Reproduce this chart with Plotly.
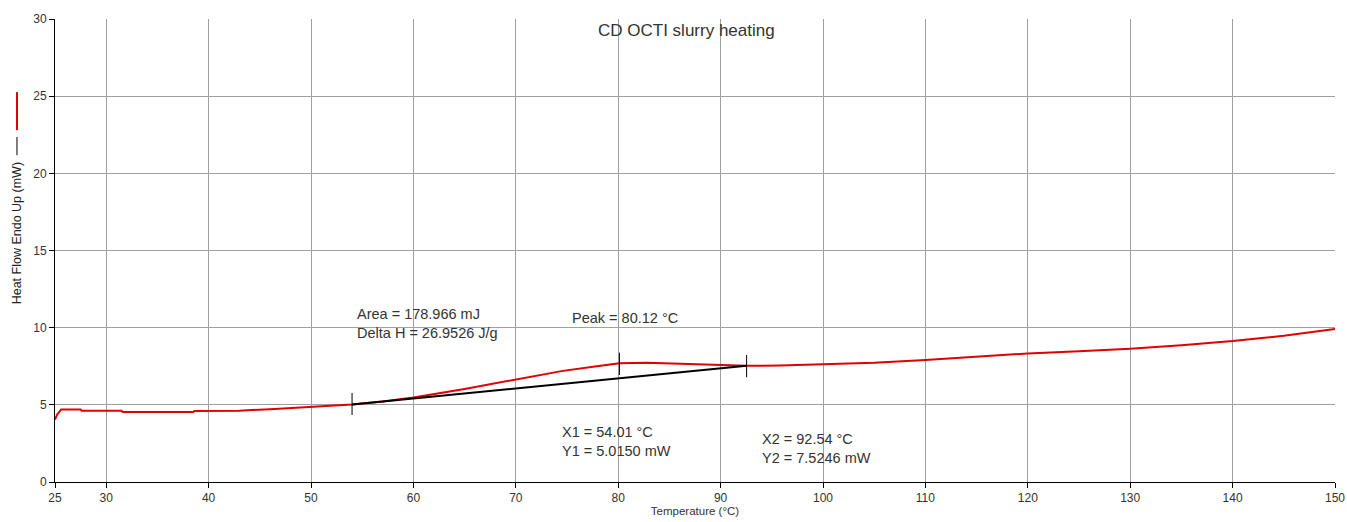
import plotly.graph_objects as go

# Red DSC curve: temperature (°C) and heat flow (mW)
temperature = [25.0, 25.2, 25.6, 27.5, 27.6, 31.5, 31.6, 38.5, 38.6, 43.0, 46.0, 50.0,
               54.01, 57.0, 60.0, 65.0, 70.0, 74.6, 77.9, 80.12, 82.8, 86.0, 89.9,
               92.54, 95.8, 100.0, 105.0, 110.0, 115.0, 120.0, 125.0, 130.0, 135.0,
               140.0, 145.0, 150.0]
heat_flow = [4.05, 4.35, 4.7, 4.7, 4.62, 4.62, 4.53, 4.53, 4.6, 4.62, 4.72, 4.86,
             5.015, 5.22, 5.48, 6.03, 6.62, 7.2, 7.5, 7.69, 7.73, 7.65, 7.58,
             7.53, 7.55, 7.62, 7.72, 7.9, 8.1, 8.33, 8.48, 8.64, 8.86,
             9.13, 9.48, 9.92]

# Baseline (integration limits)
base_x = [54.01, 92.54]
base_y = [5.015, 7.5246]

# Marker ticks: x, y-low, y-high
mark_x = [54.01, 80.12, 92.54]
mark_lo = [4.34, 6.93, 6.79]
mark_hi = [5.77, 8.38, 8.23]

x_ticks = [25, 30, 40, 50, 60, 70, 80, 90, 100, 110, 120, 130, 140, 150]
y_ticks = [0, 5, 10, 15, 20, 25, 30]

FONT = "Liberation Sans, Arial, sans-serif"

fig = go.Figure()
fig.add_trace(go.Scatter(x=temperature, y=heat_flow, mode="lines",
                         line=dict(color="#e00000", width=2), showlegend=False))
fig.add_trace(go.Scatter(x=base_x, y=base_y, mode="lines",
                         line=dict(color="black", width=2), showlegend=False))

for mx, lo, hi in zip(mark_x, mark_lo, mark_hi):
    fig.add_shape(type="line", x0=mx, x1=mx, y0=lo, y1=hi, xref="x", yref="y",
                  line=dict(color="black", width=1))

# y-axis legend swatches
fig.add_shape(type="line", xref="paper", yref="paper", x0=-0.0297, x1=-0.0297,
              y0=0.760, y1=0.842, line=dict(color="#e00000", width=2))
fig.add_shape(type="line", xref="paper", yref="paper", x0=-0.0297, x1=-0.0297,
              y0=0.706, y1=0.745, line=dict(color="black", width=1))

fig.add_annotation(text="Heat Flow Endo Up (mW)", xref="paper", yref="paper",
                   x=-0.0297, y=0.537, textangle=-90, showarrow=False,
                   xanchor="center", yanchor="middle",
                   font=dict(family=FONT, size=12.5, color="#222"))

fig.add_annotation(text="CD OCTI slurry heating", xref="paper", yref="paper",
                   x=0.493, y=0.976, showarrow=False, xanchor="center", yanchor="middle",
                   font=dict(family=FONT, size=17, color="#333"))

ann_font = dict(family=FONT, size=14.5, color="#333")
fig.add_annotation(text="Area = 178.966 mJ<br>Delta H = 26.9526 J/g", x=54.3, y=10.28,
                   showarrow=False, xanchor="left", yanchor="middle", align="left",
                   font=ann_font)
fig.add_annotation(text="Peak = 80.12 °C", x=75.3, y=10.63, showarrow=False,
                   xanchor="left", yanchor="middle", font=ann_font)
fig.add_annotation(text="X1 = 54.01 °C<br>Y1 = 5.0150 mW", x=74.3, y=2.6,
                   showarrow=False, xanchor="left", yanchor="middle", align="left",
                   font=ann_font)
fig.add_annotation(text="X2 = 92.54 °C<br>Y2 = 7.5246 mW", x=93.85, y=2.14,
                   showarrow=False, xanchor="left", yanchor="middle", align="left",
                   font=ann_font)

fig.update_layout(
    width=1347, height=522,
    margin=dict(l=55, r=12, t=19, b=40, autoexpand=False),
    paper_bgcolor="white", plot_bgcolor="white",
    font=dict(family=FONT, size=12, color="#333"),
)
fig.update_xaxes(range=[25, 150], tickvals=x_ticks, ticktext=[str(v) for v in x_ticks],
                 showgrid=True, gridcolor="#a0a0a0", gridwidth=1,
                 showline=True, linecolor="black", linewidth=1,
                 ticks="outside", ticklen=5, tickcolor="black",
                 zeroline=False, tickfont=dict(size=12), automargin=False,
                 title=dict(text="Temperature (°C)", font=dict(size=11.5), standoff=2))
fig.update_yaxes(range=[0, 30], tickvals=y_ticks,
                 showgrid=True, gridcolor="#a0a0a0", gridwidth=1,
                 showline=True, linecolor="black", linewidth=1,
                 ticks="outside", ticklen=5, tickcolor="black",
                 zeroline=False, tickfont=dict(size=12), automargin=False)

fig.write_html("out.html")
